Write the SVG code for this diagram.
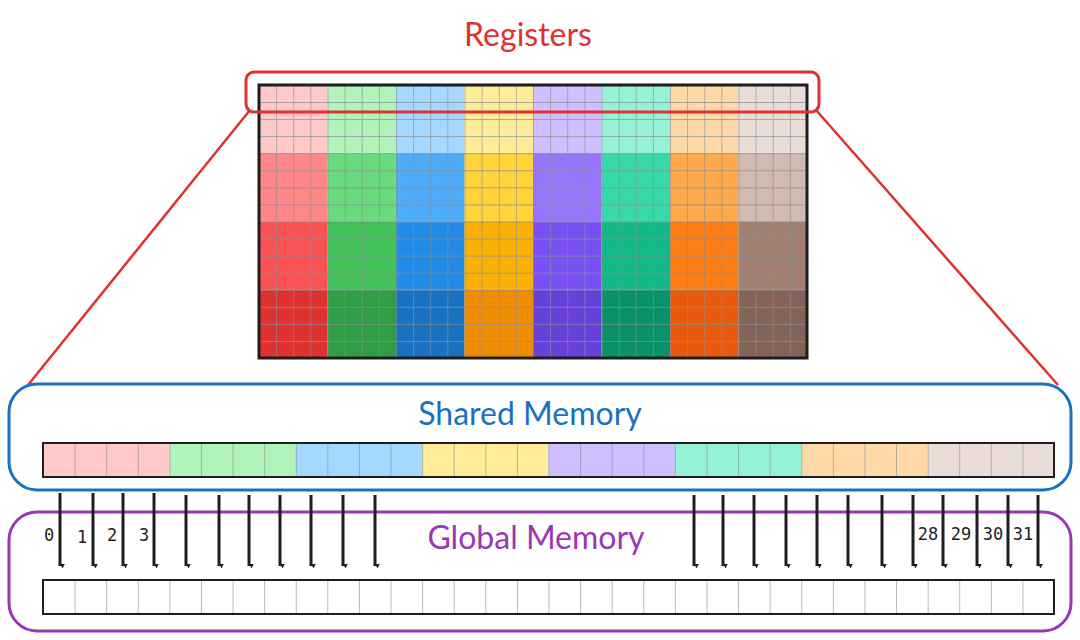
<svg xmlns="http://www.w3.org/2000/svg" width="1080" height="640" viewBox="0 0 1080 640">
<style>
.t{font-family:Lato,"Open Sans",sans-serif;font-size:32px;text-anchor:middle}
.n{font-family:"DejaVu Sans Mono",monospace;font-size:17px;fill:#1e1e1e;text-anchor:middle}
.a{stroke:#1e1e1e;stroke-width:3;marker-end:url(#ah)}
</style>
<defs>
<marker id="ah" viewBox="0 0 10 10" refX="5" refY="10" markerWidth="5" markerHeight="5" orient="auto-start-reverse" markerUnits="userSpaceOnUse">
<path d="M0,0 L10,0 L5,10 Z" fill="#1e1e1e" transform="rotate(-90 5 5)"/>
</marker>
<pattern id="g" x="259" y="85" width="17.125" height="17.0625" patternUnits="userSpaceOnUse">
<path d="M0,0 H17.125 M0,0 V17.0625" stroke="#868e96" stroke-width="1.2" fill="none"/>
</pattern>
<pattern id="s" x="43" y="0" width="31.594" height="640" patternUnits="userSpaceOnUse">
<path d="M0,0 V640" stroke="#868e96" stroke-width="1.2"/>
</pattern>
</defs>
<g id="registers-title"><text class="t" x="528" y="46" fill="#e03131">Registers</text></g>
<g id="registers">
<g stroke="none">
<rect x="259" y="85" width="68.5" height="68.25" fill="#ffc9c9"/><rect x="259" y="153.25" width="68.5" height="68.25" fill="#ff8787"/><rect x="259" y="221.5" width="68.5" height="68.25" fill="#fa5252"/><rect x="259" y="289.75" width="68.5" height="68.25" fill="#e03131"/>
<rect x="327.5" y="85" width="68.5" height="68.25" fill="#b2f2bb"/><rect x="327.5" y="153.25" width="68.5" height="68.25" fill="#69db7c"/><rect x="327.5" y="221.5" width="68.5" height="68.25" fill="#40c057"/><rect x="327.5" y="289.75" width="68.5" height="68.25" fill="#2f9e44"/>
<rect x="396" y="85" width="68.5" height="68.25" fill="#a5d8ff"/><rect x="396" y="153.25" width="68.5" height="68.25" fill="#4dabf7"/><rect x="396" y="221.5" width="68.5" height="68.25" fill="#228be6"/><rect x="396" y="289.75" width="68.5" height="68.25" fill="#1971c2"/>
<rect x="464.5" y="85" width="68.5" height="68.25" fill="#ffec99"/><rect x="464.5" y="153.25" width="68.5" height="68.25" fill="#ffd43b"/><rect x="464.5" y="221.5" width="68.5" height="68.25" fill="#fab005"/><rect x="464.5" y="289.75" width="68.5" height="68.25" fill="#f08c00"/>
<rect x="533" y="85" width="68.5" height="68.25" fill="#d0bfff"/><rect x="533" y="153.25" width="68.5" height="68.25" fill="#9775fa"/><rect x="533" y="221.5" width="68.5" height="68.25" fill="#7950f2"/><rect x="533" y="289.75" width="68.5" height="68.25" fill="#6741d9"/>
<rect x="601.5" y="85" width="68.5" height="68.25" fill="#96f2d7"/><rect x="601.5" y="153.25" width="68.5" height="68.25" fill="#38d9a9"/><rect x="601.5" y="221.5" width="68.5" height="68.25" fill="#12b886"/><rect x="601.5" y="289.75" width="68.5" height="68.25" fill="#099268"/>
<rect x="670" y="85" width="68.5" height="68.25" fill="#ffd8a8"/><rect x="670" y="153.25" width="68.5" height="68.25" fill="#ffa94d"/><rect x="670" y="221.5" width="68.5" height="68.25" fill="#fd7e14"/><rect x="670" y="289.75" width="68.5" height="68.25" fill="#e8590c"/>
<rect x="738.5" y="85" width="68.5" height="68.25" fill="#eaddd7"/><rect x="738.5" y="153.25" width="68.5" height="68.25" fill="#d2bab0"/><rect x="738.5" y="221.5" width="68.5" height="68.25" fill="#a18072"/><rect x="738.5" y="289.75" width="68.5" height="68.25" fill="#846358"/>
</g>
<rect x="259" y="85" width="548" height="273" fill="url(#g)"/>
<rect x="259" y="85" width="548" height="273" fill="none" stroke="#1e1e1e" stroke-width="3"/>
</g>
<g id="highlight">
<rect x="246" y="72" width="573" height="40" rx="8" fill="none" stroke="#e03131" stroke-width="3"/>
<path d="M250,110 L28,385 M816,110 L1058,385" stroke="#e03131" stroke-width="2.5" fill="none"/>
</g>
<g id="shared-memory">
<rect x="9" y="384" width="1062" height="106" rx="28" fill="#fff" stroke="#1971c2" stroke-width="3"/>
<text class="t" x="530" y="425" fill="#1971c2">Shared Memory</text>
<g>
<rect x="43" y="443" width="126.4" height="34" fill="#ffc9c9"/><rect x="169.4" y="443" width="126.4" height="34" fill="#b2f2bb"/><rect x="295.8" y="443" width="126.4" height="34" fill="#a5d8ff"/><rect x="422.1" y="443" width="126.4" height="34" fill="#ffec99"/><rect x="548.5" y="443" width="126.4" height="34" fill="#d0bfff"/><rect x="674.9" y="443" width="126.4" height="34" fill="#96f2d7"/><rect x="801.3" y="443" width="126.4" height="34" fill="#ffd8a8"/><rect x="927.6" y="443" width="126.4" height="34" fill="#eaddd7"/>
</g>
<rect x="43" y="443" width="1011" height="34" fill="url(#s)"/>
<rect x="43" y="443" width="1011" height="34" fill="none" stroke="#1e1e1e" stroke-width="2"/>
</g>
<g id="global-memory">
<rect x="9" y="512" width="1062" height="119" rx="28" fill="none" stroke="#9c36b5" stroke-width="3"/>
<text class="t" x="536" y="549" fill="#9c36b5">Global Memory</text>
<rect x="43" y="580" width="1011" height="34" fill="url(#s)"/>
<rect x="43" y="580" width="1011" height="34" fill="none" stroke="#1e1e1e" stroke-width="2"/>
</g>
<g id="connectors">
<line class="a" x1="60" y1="493" x2="60" y2="566"/><line class="a" x1="93" y1="493" x2="93" y2="566"/><line class="a" x1="123" y1="493" x2="123" y2="566"/><line class="a" x1="154" y1="493" x2="154" y2="566"/><line class="a" x1="186" y1="495" x2="186" y2="566"/><line class="a" x1="219" y1="495" x2="219" y2="566"/><line class="a" x1="249" y1="495" x2="249" y2="566"/><line class="a" x1="280" y1="495" x2="280" y2="566"/><line class="a" x1="311" y1="495" x2="311" y2="566"/><line class="a" x1="343" y1="495" x2="343" y2="566"/><line class="a" x1="375" y1="495" x2="375" y2="566"/>
<line class="a" x1="694" y1="495" x2="694" y2="566"/><line class="a" x1="723" y1="495" x2="723" y2="566"/><line class="a" x1="754" y1="495" x2="754" y2="566"/><line class="a" x1="786" y1="495" x2="786" y2="566"/><line class="a" x1="817" y1="495" x2="817" y2="566"/><line class="a" x1="848" y1="495" x2="848" y2="566"/><line class="a" x1="882" y1="495" x2="882" y2="566"/><line class="a" x1="913" y1="495" x2="913" y2="566"/><line class="a" x1="943" y1="495" x2="943" y2="566"/><line class="a" x1="977" y1="495" x2="977" y2="566"/><line class="a" x1="1008" y1="495" x2="1008" y2="566"/><line class="a" x1="1038" y1="495" x2="1038" y2="566"/>
</g>
<g id="labels">
<text class="n" x="49" y="541">0</text><text class="n" x="82" y="543">1</text><text class="n" x="112" y="541">2</text><text class="n" x="144" y="541">3</text>
<text class="n" x="928" y="540">28</text><text class="n" x="961" y="540">29</text><text class="n" x="993" y="540">30</text><text class="n" x="1023" y="540">31</text>
</g>
</svg>
